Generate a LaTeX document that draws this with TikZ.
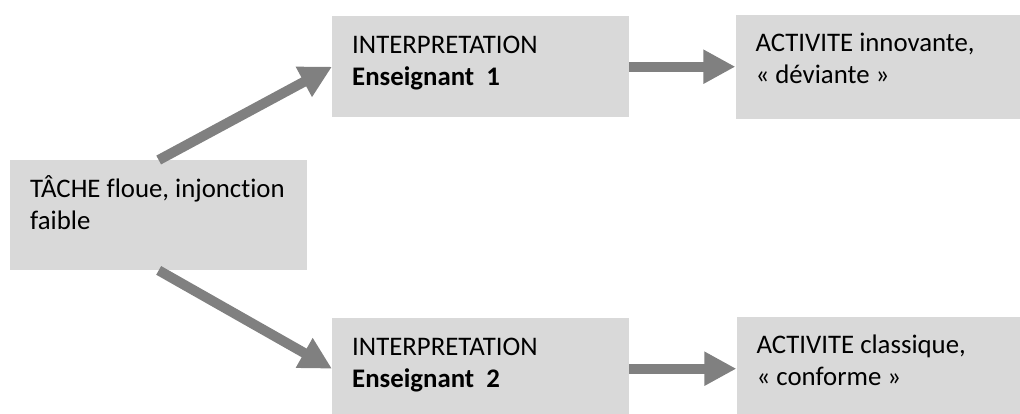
\documentclass[tikz,border=0pt]{standalone}
\usepackage{fontspec}
\setmainfont[Ligatures=NoCommon]{Carlito}
\usetikzlibrary{arrows.meta, positioning}
\definecolor{boxgray}{HTML}{D9D9D9}
\definecolor{arrgray}{HTML}{808080}
% text block at the top left of a box: width, height, text
\newcommand{\boxtxt}[3]{\parbox[t][#2][t]{#1}{\raggedright\rule{0pt}{37pt}#3}}

\begin{document}
\begin{tikzpicture}[x=1pt, y=-1pt,
            box/.style={fill=boxgray, inner xsep=20pt, inner ysep=0pt,
                    font=\fontsize{26.8}{32}\selectfont},
            arr/.style={-{Triangle[length=32pt, width=32pt]}, line width=10pt, draw=arrgray, fill=arrgray}]
        \useasboundingbox (0,0) rectangle (1020,413);
        \clip (0,0) rectangle (1020,413);
        \node[box, anchor=north west] (tache) at (10,160) {\boxtxt{257pt}{110pt}{TÂCHE floue, injonction\\faible}};
        \node[box, anchor=north west] (int1) at (332,16) {\boxtxt{257pt}{101pt}{INTERPRETATION\\\textbf{Enseignant\ \ 1}}};
        \node[box, anchor=north west] (int2) at (332,318) {\boxtxt{257pt}{101pt}{INTERPRETATION\\\textbf{Enseignant\ \ 2}}};
        \node[box, right=106pt of int1] (act1) {\boxtxt{250pt}{104pt}{ACTIVITE innovante,\\« déviante »}};
        \node[box, right=107pt of int2] (act2) {\boxtxt{250pt}{104pt}{ACTIVITE classique,\\« conforme »}};
        \draw[arr] (tache.north) -- (int1.west);
        \draw[arr] (tache.south) -- (int2.west);
        \draw[arr] (int1) -- (act1);
        \draw[arr] (int2) -- (act2);
    \end{tikzpicture}
\end{document}
